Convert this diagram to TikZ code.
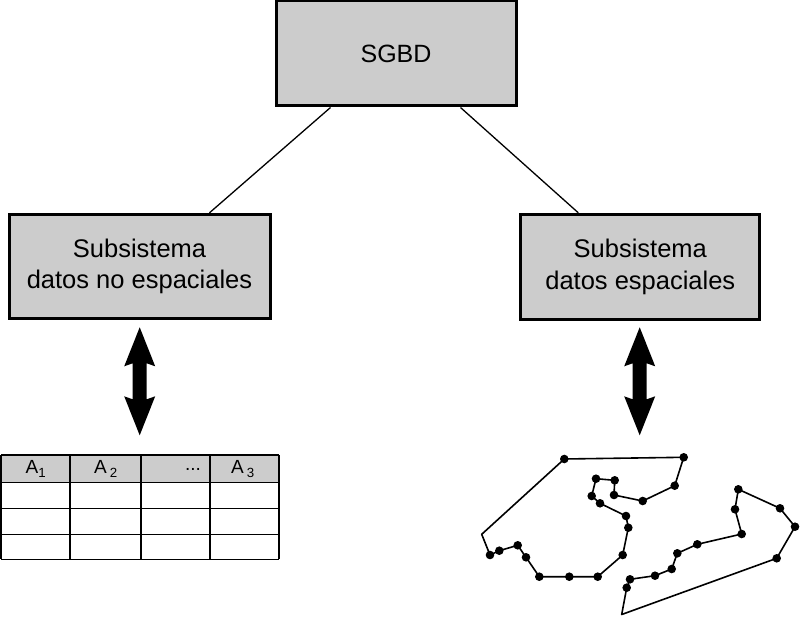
\documentclass[tikz,border=0pt]{standalone}
\usepackage{fontspec}
\setmainfont{Liberation Sans}
\definecolor{boxgray}{HTML}{CCCCCC}
\begin{document}
\begin{tikzpicture}[x=1pt,y=-1pt,
  box/.style={draw, line width=3pt, fill=boxgray, align=center, inner sep=0pt,
              font=\fontsize{25.5}{31.5}\selectfont},
  conn/.style={line width=1.3pt},
  bigarrow/.style={fill=black},
  tbl/.style={line width=1.6pt},
  hdr/.style={font=\fontsize{19}{22}\selectfont, inner sep=0pt},
  poly/.style={line width=1.6pt, line join=round},
  pdot/.style={fill=black}]
\useasboundingbox (0,0) rectangle (800,617);

% boxes
\node[box, minimum width=240pt, minimum height=105pt, font=\fontsize{25}{30}\selectfont] (sgbd) at (396,53.5) {SGBD};
\node[box, minimum width=261pt, minimum height=104pt] (nesp) at (139.5,266.3) {Subsistema\\datos no espaciales};
\node[box, minimum width=239pt, minimum height=105pt] (esp) at (640.3,266.8) {Subsistema\\datos espaciales};

% connectors
\draw[conn] ([xshift=56pt]sgbd.south west) -- ([xshift=-62pt]nesp.north east);
\draw[conn] ([xshift=-57pt]sgbd.south east) -- ([xshift=59pt]esp.north west);

% double arrows
\coordinate (la) at (139.7,327.3);
\coordinate (ra) at (639.7,327.3);
\foreach \c in {la,ra}{
  \fill[bigarrow, shift={(\c)}] (0,0) -- (15.5,39) -- (7,36) -- (7,72) -- (15.5,69)
    -- (0,108) -- (-15.5,69) -- (-7,72) -- (-7,36) -- (-15.5,39) -- cycle;
}

% table
\fill[boxgray] (1,455) rectangle (278.7,482.3);
\foreach \yy in {455,482.3,508.3,534.3,559.3}
  \draw[tbl] (1,\yy) -- (278.7,\yy);
\foreach \xx in {1,70,140.7,210,278.7}
  \draw[tbl] (\xx,455) -- (\xx,559.3);
\node[hdr] (h1) at (36,469) {A\textsubscript{1}};
\node[hdr] (h2) at (106,469) {A\,\textsubscript{2}};
\node[hdr] (h3) at (193,469) {...};
\node[hdr] (h4) at (243,469) {A\,\textsubscript{3}};

% polygon 1
\draw[poly] (564.3,459) -- (683.7,457.3) -- (674.7,485.7) -- (642.7,501) -- (614,495)
  -- (614.7,480.3) -- (596,478.7) -- (591.7,496) -- (600,503.3) -- (626,516)
  -- (628.3,527.7) -- (622.7,555) -- (597.7,576.7) -- (569.3,576.7) -- (539.3,576.7)
  -- (526,557.3) -- (517.7,545.3) -- (499.3,550.7) -- (490,555) -- (481.7,534.3) -- cycle;
\foreach \p in {(564.3,459),(683.7,457.3),(674.7,485.7),(642.7,501),(614,495),
  (614.7,480.3),(596,478.7),(591.7,496),(600,503.3),(626,516),
  (628.3,527.7),(622.7,555),(597.7,576.7),(569.3,576.7),(539.3,576.7),
  (526,557.3),(517.7,545.3),(499.3,550.7),(490,555)}
  \fill[pdot] \p circle (4.3pt);

% polygon 2
\draw[poly] (738.3,489.3) -- (780,508.3) -- (795,526.7) -- (776.7,558.3) -- (621.7,614.5)
  -- (626.7,587.7) -- (630,579.3) -- (655,575.7) -- (671.7,569) -- (677.3,553.3)
  -- (697.3,544.3) -- (741.7,534) -- (735,509.3) -- cycle;
\foreach \p in {(738.3,489.3),(780,508.3),(795,526.7),(776.7,558.3),
  (626.7,587.7),(630,579.3),(655,575.7),(671.7,569),(677.3,553.3),
  (697.3,544.3),(741.7,534),(735,509.3)}
  \fill[pdot] \p circle (4.3pt);
\end{tikzpicture}
\end{document}
